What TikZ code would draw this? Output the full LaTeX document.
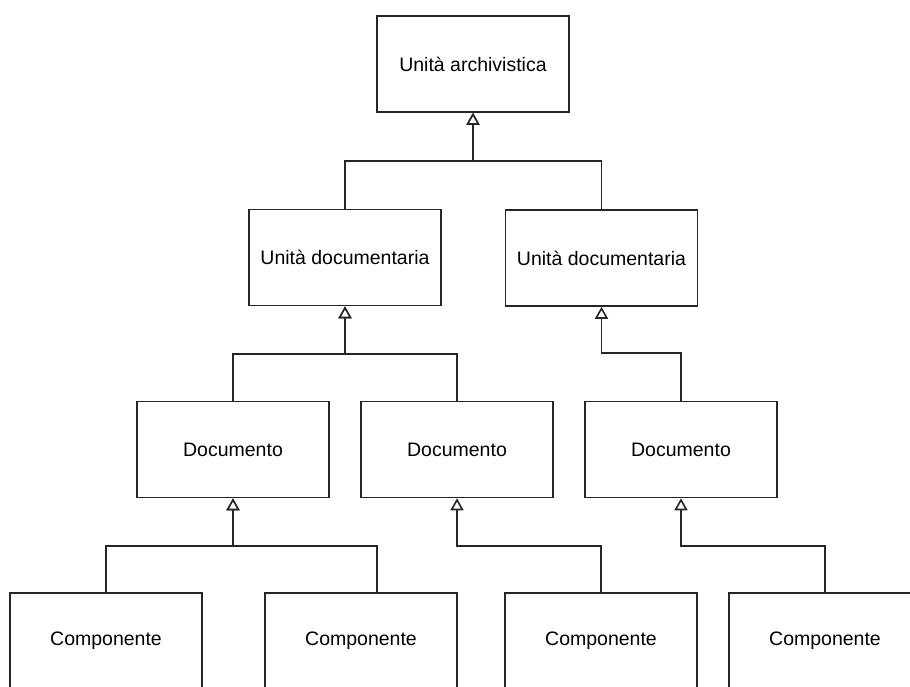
\documentclass[tikz,border=0pt]{standalone}
\usepackage{fontspec}
\setmainfont{Liberation Sans}
\usetikzlibrary{arrows.meta}
\tikzset{
    entity/.style={ % Boxes of the hierarchy
        draw=black!85,
        line width=1.6pt,
        rectangle,
        minimum width=192pt,
        minimum height=96pt,
        inner sep=0pt,
        font=\fontsize{19.5}{23}\selectfont
    },
    gen/.style={ % Generalisation arrows with hollow triangle heads
        draw=black!85,
        line width=1.6pt,
        -{Triangle[open, width=13pt, length=12pt, fill=white]}
    }
}

\begin{document}
\begin{tikzpicture}[x=1pt, y=1pt]
            \clip (0,0) rectangle (910,-686);
            \fill[white] (0,0) rectangle (910,-686);

            \node[entity] (ua) at (473,-64) {Unità archivistica};
            \node[entity] (udL) at (345,-257.5) {Unità documentaria};
            \node[entity] (udR) at (601.5,-258) {Unità documentaria};
            \node[entity] (docL) at (233,-449.5) {Documento};
            \node[entity] (docM) at (457,-449.5) {Documento};
            \node[entity] (docR) at (681,-449.5) {Documento};
            \node[entity] (comp1) at (106,-641) {Componente};
            \node[entity] (comp2) at (361,-641) {Componente};
            \node[entity] (comp3) at (601,-641) {Componente};
            \node[entity] (comp4) at (825,-641) {Componente};

            % junctions below each parent
            \coordinate (ua-j) at (473,-161);
            \coordinate (udL-j) at (345,-354);
            \coordinate (udR-j) at (601.5,-353);
            \coordinate (docL-j) at (233,-546);
            \coordinate (docM-j) at (457,-546);
            \coordinate (docR-j) at (681,-546);

            \draw[gen] (udL.north) |- (ua-j) -- (ua.south);
            \draw[gen] (udR.north) |- (ua-j) -- (ua.south);
            \draw[gen] (docL.north) |- (udL-j) -- (udL.south);
            \draw[gen] (docM.north) |- (udL-j) -- (udL.south);
            \draw[gen] (docR.north) |- (udR-j) -- (udR.south);
            \draw[gen] (comp1.north) |- (docL-j) -- (docL.south);
            \draw[gen] ([xshift=16pt]comp2.north) |- (docL-j) -- (docL.south);
            \draw[gen] (comp3.north) |- (docM-j) -- (docM.south);
            \draw[gen] (comp4.north) |- (docR-j) -- (docR.south);
\end{tikzpicture}
\end{document}
